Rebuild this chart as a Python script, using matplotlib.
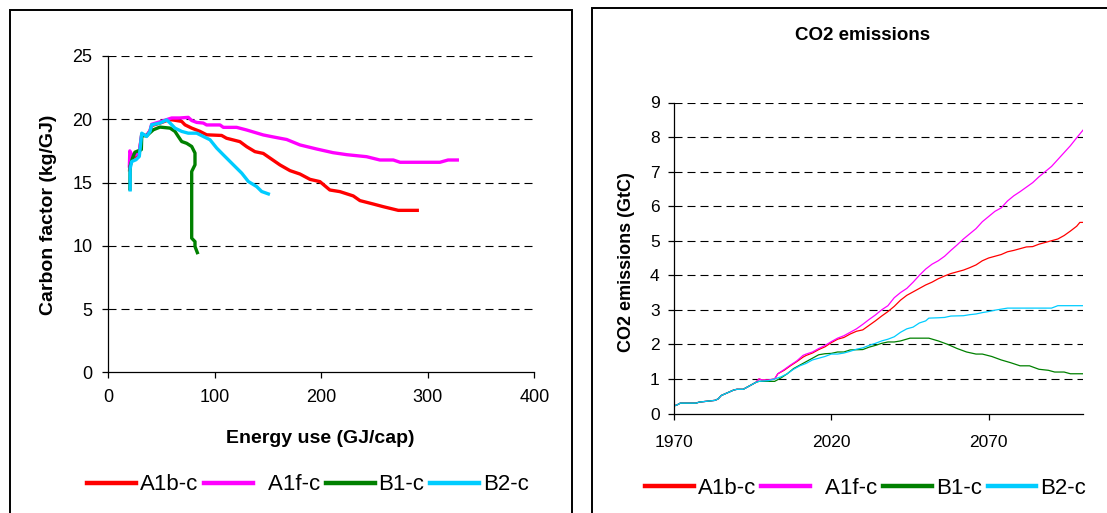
import matplotlib
matplotlib.use("Agg")
import matplotlib.pyplot as plt
from matplotlib.patches import Rectangle

plt.rcParams['font.family'] = ['Liberation Sans', 'DejaVu Sans']

# ---------------- data ----------------
scenarios = ["A1b-c", "A1f-c", "B1-c", "B2-c"]
legend_labels = ["A1b-c", "  A1f-c", "B1-c", "B2-c"]
colors = ["#FF0000", "#FF00FF", "#008000", "#00CCFF"]

# Carbon factor (kg/GJ) against energy use (GJ/cap)
a1b_energy = [20.0, 20.3, 22, 26, 29, 31.4, 36, 39.2, 40.7, 48.5, 55, 59.5, 64, 68.9,
              72, 78.3, 86.1, 92.4, 106.4, 111, 123.6, 130, 137.7, 145.5, 161.2, 170.6,
              180, 189.4, 198.7, 208, 217.5, 230, 236.3, 248.8, 258.2, 272.3, 290.1]
a1b_carbon = [16.0, 16.5, 16.9, 17.1, 17.3, 18.8, 18.7, 19.1, 19.5, 19.7, 19.9, 19.96, 19.9, 19.83,
              19.56, 19.3, 19.04, 18.77, 18.72, 18.5, 18.23, 17.83, 17.44, 17.3, 16.39, 15.94,
              15.67, 15.25, 15.07, 14.41, 14.28, 13.94, 13.57, 13.3, 13.09, 12.8, 12.8]

a1f_energy = [19.8, 20.2, 22, 26, 29, 31.4, 36, 39.2, 40.7, 48.5, 54, 59.5, 67, 75.1,
              78.3, 83, 89.2, 92.3, 104.9, 108, 120.5, 130, 145.5, 155, 167.5, 180,
              195.6, 211, 224, 242.6, 255, 267.6, 274, 311.4, 319, 327.7]
a1f_carbon = [16.3, 17.5, 17.2, 17.2, 17.4, 18.8, 18.7, 19.1, 19.6, 19.8, 19.95, 20.1, 20.1, 20.15,
              19.9, 19.75, 19.7, 19.55, 19.55, 19.36, 19.36, 19.15, 18.76, 18.6, 18.4, 17.97,
              17.65, 17.36, 17.2, 17.04, 16.78, 16.78, 16.6, 16.6, 16.78, 16.78]

b1_energy = [20.3, 20.5, 23, 25, 31, 31.4, 36, 42.3, 48.5, 58, 62.6, 65.7, 68.9, 73.6,
             78.3, 81.4, 81.4, 78.3, 78.3, 81.4, 81.4, 83.6]
b1_carbon = [14.5, 16.3, 17.0, 17.4, 17.6, 18.7, 18.7, 19.17, 19.38, 19.3, 19.04, 18.64, 18.24, 18.1,
             17.85, 17.33, 16.4, 15.87, 10.6, 10.33, 9.94, 9.46]

b2_energy = [20.5, 20.5, 22, 26, 29.1, 31.4, 36, 39.2, 40.7, 48.5, 54.8, 58, 62.6, 68.9,
             75.1, 83, 89.2, 95.5, 101.8, 108, 117.4, 125.3, 131.5, 139.3, 144, 150.3]
b2_carbon = [14.42, 16.1, 16.66, 16.8, 17.06, 18.9, 18.64, 19.04, 19.56, 19.7, 19.95, 19.7, 19.3, 19.04,
             18.9, 18.9, 18.64, 18.38, 17.72, 17.19, 16.4, 15.74, 15.08, 14.68, 14.29, 14.1]

# CO2 emissions (GtC) by year
hist_years = [1970, 1971, 1972, 1977, 1978, 1980, 1983, 1984, 1985, 1987, 1989, 1990, 1992, 1994, 1996]
hist_co2 = [0.22, 0.25, 0.30, 0.30, 0.33, 0.35, 0.38, 0.42, 0.52, 0.60, 0.68, 0.70, 0.70, 0.80, 0.90]

a1b_years = [1997, 1998, 2000, 2002, 2003, 2005, 2007, 2009, 2011, 2012, 2014, 2016, 2018,
             2020, 2022, 2024, 2026, 2028, 2030, 2032, 2034, 2036, 2038, 2040, 2042, 2044,
             2046, 2048, 2050, 2052, 2054, 2056, 2058, 2060, 2062, 2064, 2066, 2068, 2070,
             2072, 2074, 2076, 2078, 2080, 2082, 2084, 2086, 2088, 2090, 2092, 2094, 2096,
             2098, 2099, 2100]
a1b_co2 = [1.00, 0.97, 0.97, 1.00, 1.15, 1.25, 1.38, 1.50, 1.63, 1.68, 1.75, 1.85, 1.93,
           2.05, 2.15, 2.20, 2.30, 2.38, 2.42, 2.55, 2.68, 2.82, 2.95, 3.10, 3.28, 3.42,
           3.52, 3.62, 3.72, 3.80, 3.90, 3.98, 4.05, 4.10, 4.15, 4.22, 4.30, 4.42, 4.50,
           4.55, 4.60, 4.68, 4.72, 4.77, 4.82, 4.83, 4.90, 4.95, 5.00, 5.05, 5.15, 5.28,
           5.42, 5.53, 5.53]

a1f_years = [1997, 1998, 2000, 2002, 2003, 2005, 2007, 2009, 2011, 2012, 2014, 2016, 2018,
             2020, 2022, 2024, 2026, 2028, 2030, 2032, 2034, 2036, 2038, 2040, 2042, 2044,
             2046, 2048, 2050, 2052, 2054, 2056, 2058, 2060, 2062, 2064, 2066, 2068, 2070,
             2072, 2074, 2076, 2078, 2080, 2082, 2084, 2086, 2088, 2090, 2092, 2094, 2096,
             2098, 2100]
a1f_co2 = [1.00, 0.97, 0.97, 1.00, 1.15, 1.27, 1.40, 1.52, 1.68, 1.72, 1.78, 1.88, 1.97,
           2.08, 2.18, 2.25, 2.35, 2.45, 2.58, 2.72, 2.85, 3.00, 3.12, 3.35, 3.50, 3.62,
           3.80, 4.00, 4.18, 4.32, 4.42, 4.55, 4.72, 4.88, 5.05, 5.20, 5.35, 5.55, 5.70,
           5.85, 5.95, 6.15, 6.30, 6.42, 6.55, 6.68, 6.85, 7.00, 7.15, 7.35, 7.55, 7.75,
           7.98, 8.20]

b1_years = [1997, 2002, 2004, 2006, 2008, 2010, 2012, 2014, 2016, 2018, 2020, 2022, 2024,
            2026, 2030, 2032, 2034, 2036, 2038, 2040, 2042, 2045, 2051, 2054, 2057, 2060,
            2063, 2066, 2068, 2071, 2074, 2077, 2080, 2083, 2086, 2089, 2091, 2094, 2096, 2100]
b1_co2 = [0.93, 0.93, 1.03, 1.15, 1.30, 1.40, 1.50, 1.60, 1.70, 1.73, 1.74, 1.78, 1.78,
          1.84, 1.85, 1.92, 1.97, 2.03, 2.07, 2.07, 2.10, 2.18, 2.18, 2.10, 2.00, 1.88,
          1.78, 1.72, 1.72, 1.65, 1.55, 1.47, 1.38, 1.38, 1.28, 1.25, 1.20, 1.20, 1.15, 1.15]

b2_years = [1997, 2000, 2002, 2004, 2006, 2008, 2010, 2012, 2014, 2016, 2018, 2020, 2022,
            2024, 2026, 2028, 2030, 2032, 2034, 2036, 2038, 2040, 2042, 2044, 2046, 2048,
            2050, 2051, 2054, 2056, 2058, 2062, 2064, 2066, 2068, 2070, 2072, 2074, 2076,
            2090, 2092, 2100]
b2_co2 = [0.93, 0.95, 1.00, 1.06, 1.15, 1.28, 1.38, 1.45, 1.55, 1.60, 1.65, 1.72, 1.72,
          1.75, 1.80, 1.86, 1.90, 1.97, 2.03, 2.10, 2.15, 2.22, 2.35, 2.45, 2.50, 2.62,
          2.68, 2.76, 2.77, 2.78, 2.82, 2.83, 2.86, 2.88, 2.92, 2.95, 2.99, 3.02, 3.05,
          3.05, 3.12, 3.12]

carbon_series = [(a1b_energy, a1b_carbon), (a1f_energy, a1f_carbon),
                 (b1_energy, b1_carbon), (b2_energy, b2_carbon)]
co2_series = [(a1b_years, a1b_co2), (a1f_years, a1f_co2),
              (b1_years, b1_co2), (b2_years, b2_co2)]

# ---------------- figure ----------------
W, H = 1107, 513
fig = plt.figure(figsize=(W / 100, H / 100), dpi=100)
fig.patch.set_facecolor("white")

def fx(px):
    return px / W

def fy(py):
    return 1 - py / H

# panel borders
fig.add_artist(Rectangle((fx(10), fy(540)), fx(562), (540 - 10) / H,
                         transform=fig.transFigure, fill=False, lw=1.4, ec="black"))
fig.add_artist(Rectangle((fx(592), fy(540)), fx(600), (540 - 8) / H,
                         transform=fig.transFigure, fill=False, lw=1.4, ec="black"))

grid_kw = dict(color="black", lw=0.8, ls=(0, (7.2, 4.5)), zorder=0)

def style_axes(ax):
    for s in ("top", "right"):
        ax.spines[s].set_visible(False)
    for s in ("left", "bottom"):
        ax.spines[s].set_linewidth(0.9)
    ax.tick_params(direction="out", length=4.3, width=0.9, colors="black")

# ---- left: carbon factor vs energy use ----
axL = fig.add_axes([fx(108.3), fy(372.3), fx(534.3) - fx(108.3), (372.3 - 56) / H])
style_axes(axL)
linesL = []
for (x, y), c, name in zip(carbon_series, colors, scenarios):
    ln, = axL.plot(x, y, color=c, lw=2.4, solid_joinstyle="round", label=name)
    linesL.append(ln)
axL.set_xlim(0, 400)
axL.set_ylim(0, 25)
axL.set_xticks([0, 100, 200, 300, 400])
axL.set_yticks([0, 5, 10, 15, 20, 25])
for v in [5, 10, 15, 20, 25]:
    axL.axhline(v, **grid_kw)
axL.tick_params(axis="both", labelsize=13)
axL.tick_params(axis="x", pad=8)
axL.tick_params(axis="y", pad=7)
axL.set_xlabel("Energy use (GJ/cap)", fontsize=14, fontweight="bold", va="center")
axL.xaxis.set_label_coords(0.497, -0.209)
axL.set_ylabel("Carbon factor (kg/GJ)", fontsize=14, fontweight="bold", va="center")
axL.yaxis.set_label_coords(-0.1415, 0.497)

legL = axL.legend(linesL, legend_labels, ncol=4, loc="center",
                  bbox_to_anchor=(fx(308), fy(485)), bbox_transform=fig.transFigure,
                  frameon=False, fontsize=16, handlelength=2.2, handletextpad=0.18,
                  columnspacing=0.25, borderpad=0, borderaxespad=0)
for h in legL.get_lines():
    h.set_linewidth(3.2)

# ---- right: CO2 emissions over time ----
axR = fig.add_axes([fx(674), fy(413.5), fx(1083) - fx(674), (413.5 - 102.5) / H])
style_axes(axR)
linesR = []
for (yrs, vals), c, name in zip(co2_series, colors, scenarios):
    ln, = axR.plot(hist_years + yrs, hist_co2 + vals, color=c, lw=0.9, label=name)
    linesR.append(ln)
axR.set_xlim(1970, 2100)
axR.set_ylim(0, 9)
axR.set_xticks([1970, 2020, 2070])
axR.set_yticks(range(0, 10))
for v in range(1, 10):
    axR.axhline(v, **grid_kw)
axR.tick_params(axis="both", labelsize=12.5)
axR.tick_params(axis="x", pad=11)
axR.tick_params(axis="y", pad=6)
axR.set_ylabel("CO2 emissions (GtC)", fontsize=13, fontweight="bold", va="center")
axR.yaxis.set_label_coords(-0.115, 0.487)
axR.set_title("CO2 emissions", fontsize=13.5, fontweight="bold", x=0.46, y=1.19, va="center")

legR = axR.legend(linesR, legend_labels, ncol=4, loc="center",
                  bbox_to_anchor=(fx(865.5), fy(488)), bbox_transform=fig.transFigure,
                  frameon=False, fontsize=16, handlelength=2.2, handletextpad=0.18,
                  columnspacing=0.25, borderpad=0, borderaxespad=0)
for h in legR.get_lines():
    h.set_linewidth(3.2)

fig.savefig("out.png", dpi=100, facecolor="white")
